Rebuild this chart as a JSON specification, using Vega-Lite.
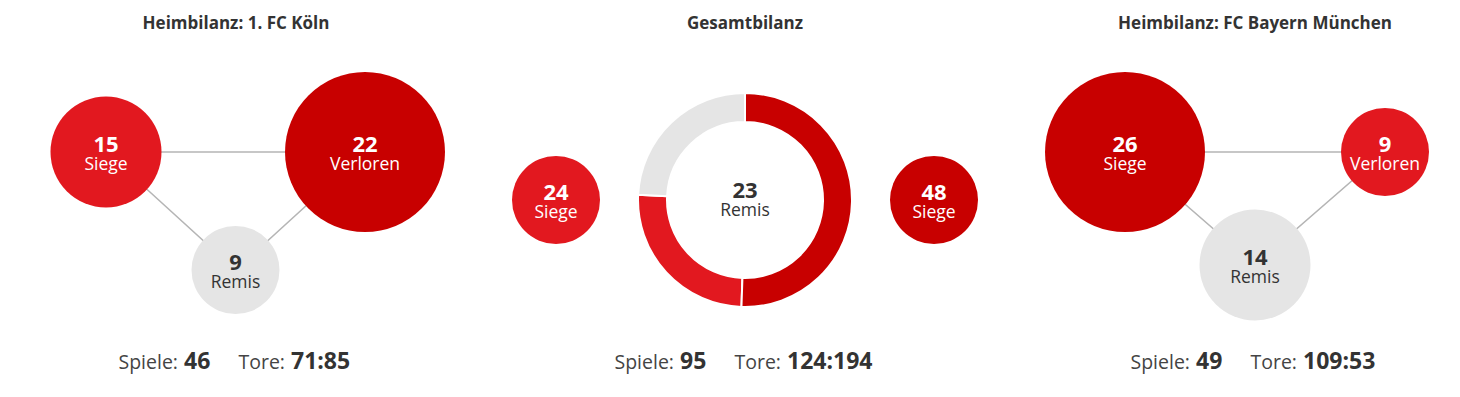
{
  "$schema": "https://vega.github.io/schema/vega-lite/v6.json",
  "padding": {"left": 0, "right": 0, "top": 15, "bottom": 0},
  "background": "#ffffff",
  "spacing": 0,
  "bounds": "flush",
  "config": {
    "view": {"stroke": null},
    "font": "Open Sans",
    "title": {"fontSize": 17, "fontWeight": "bold", "color": "#333333", "anchor": "middle", "offset": -2}
  },
  "datasets": {
    "bilanz": [
      {"panel": "Köln", "winner": "Köln", "result": "Siege", "outcome": "entschieden", "value": 15},
      {"panel": "Köln", "winner": "Remis", "result": "Remis", "outcome": "unentschieden", "value": 9},
      {"panel": "Köln", "winner": "Bayern", "result": "Verloren", "outcome": "entschieden", "value": 22},
      {"panel": "Gesamt", "winner": "Köln", "result": "Siege", "outcome": "entschieden", "value": 24},
      {"panel": "Gesamt", "winner": "Remis", "result": "Remis", "outcome": "unentschieden", "value": 23},
      {"panel": "Gesamt", "winner": "Bayern", "result": "Siege", "outcome": "entschieden", "value": 48},
      {"panel": "Bayern", "winner": "Bayern", "result": "Siege", "outcome": "entschieden", "value": 26},
      {"panel": "Bayern", "winner": "Remis", "result": "Remis", "outcome": "unentschieden", "value": 14},
      {"panel": "Bayern", "winner": "Köln", "result": "Verloren", "outcome": "entschieden", "value": 9}
    ],
    "kennzahlen": [
      {"panel": "Köln", "stat": "Spiele:", "number": "46"},
      {"panel": "Köln", "stat": "Tore:", "number": "71:85"},
      {"panel": "Gesamt", "stat": "Spiele:", "number": "95"},
      {"panel": "Gesamt", "stat": "Tore:", "number": "124:194"},
      {"panel": "Bayern", "stat": "Spiele:", "number": "49"},
      {"panel": "Bayern", "stat": "Tore:", "number": "109:53"}
    ]
  },
  "hconcat": [
    {
      "width": 472,
      "height": 338,
      "title": "Heimbilanz: 1. FC Köln",
      "layer": [
        {
          "data": {"name": "bilanz"},
          "transform": [
            {"filter": {"field": "panel", "equal": "Köln"}},
            {"window": [{"op": "rank", "as": "rang"}], "sort": [{"field": "value", "order": "descending"}]}
          ],
          "encoding": {
            "x": {"field": "winner", "type": "nominal", "scale": {"type": "point", "padding": 0, "domain": ["Köln", "Remis", "Bayern"], "range": [106, 365]}, "axis": null},
            "y": {"field": "outcome", "type": "nominal", "scale": {"type": "point", "padding": 0, "domain": ["entschieden", "unentschieden"], "range": [121, 239]}, "axis": null}
          },
          "layer": [
            {"mark": {"type": "line", "interpolate": "linear-closed", "color": "#b5b5b5", "strokeWidth": 1.5}},
            {
              "mark": {"type": "circle", "opacity": 1},
              "encoding": {
                "color": {"field": "winner", "type": "nominal", "scale": {"domain": ["Köln", "Bayern", "Remis"], "range": ["#e2181f", "#c80000", "#e5e5e5"]}, "legend": null},
                "size": {"field": "rang", "type": "ordinal", "scale": {"type": "ordinal", "domain": [1, 2, 3], "range": [25600, 12321, 7744]}, "legend": null}
              }
            },
            {
              "mark": {"type": "text", "fontSize": 22, "fontWeight": "bold", "baseline": "alphabetic", "dy": 0},
              "encoding": {
                "text": {"field": "value", "type": "quantitative"},
                "color": {"condition": {"test": "datum.winner === 'Remis'", "value": "#333333"}, "value": "#ffffff"}
              }
            },
            {
              "mark": {"type": "text", "fontSize": 17.5, "baseline": "alphabetic", "dy": 18},
              "encoding": {
                "text": {"field": "result", "type": "nominal"},
                "color": {"condition": {"test": "datum.winner === 'Remis'", "value": "#333333"}, "value": "#ffffff"}
              }
            }
          ]
        },
        {
          "data": {"name": "kennzahlen"},
          "transform": [{"filter": {"field": "panel", "equal": "Köln"}}],
          "encoding": {
            "x": {"field": "stat", "type": "nominal", "scale": {"type": "point", "padding": 0, "domain": ["Spiele:", "Tore:"], "range": [181, 288]}, "axis": null},
            "y": {"value": "height"}
          },
          "layer": [
            {"mark": {"type": "text", "align": "right", "dx": -3, "fontSize": 19.5, "color": "#444444", "baseline": "alphabetic"}, "encoding": {"text": {"field": "stat", "type": "nominal"}}},
            {"mark": {"type": "text", "align": "left", "dx": 3, "fontSize": 23, "fontWeight": "bold", "color": "#333333", "baseline": "alphabetic"}, "encoding": {"text": {"field": "number", "type": "nominal"}}}
          ]
        }
      ],
      "resolve": {"scale": {"x": "independent", "y": "independent"}}
    },
    {
      "width": 546,
      "height": 338,
      "title": "Gesamtbilanz",
      "layer": [
        {
          "data": {"name": "bilanz"},
          "transform": [{"filter": {"field": "panel", "equal": "Gesamt"}}],
          "layer": [
            {
              "mark": {"type": "arc", "innerRadius": 78, "outerRadius": 107, "stroke": "#ffffff", "strokeWidth": 2},
              "encoding": {
                "theta": {"field": "value", "type": "quantitative", "stack": true},
                "order": {"field": "value", "sort": "descending"},
                "color": {"field": "winner", "type": "nominal", "scale": {"domain": ["Köln", "Bayern", "Remis"], "range": ["#e2181f", "#c80000", "#e5e5e5"]}, "legend": null}
              }
            },
            {
              "transform": [{"filter": {"not": {"field": "winner", "equal": "Remis"}}}],
              "encoding": {
                "x": {"field": "winner", "type": "nominal", "scale": {"type": "point", "padding": 0, "domain": ["Köln", "Bayern"], "range": [84, 462]}, "axis": null}
              },
              "layer": [
                {
                  "mark": {"type": "circle", "opacity": 1, "size": 7744},
                  "encoding": {
                    "color": {"field": "winner", "type": "nominal", "scale": {"domain": ["Köln", "Bayern", "Remis"], "range": ["#e2181f", "#c80000", "#e5e5e5"]}, "legend": null}
                  }
                },
                {
                  "mark": {"type": "text", "fontSize": 22, "fontWeight": "bold", "baseline": "alphabetic", "dy": 0, "color": "#ffffff"},
                  "encoding": {"text": {"field": "value", "type": "quantitative"}}
                },
                {
                  "mark": {"type": "text", "fontSize": 17.5, "baseline": "alphabetic", "dy": 18, "color": "#ffffff"},
                  "encoding": {"text": {"field": "result", "type": "nominal"}}
                }
              ]
            },
            {
              "transform": [{"filter": {"field": "winner", "equal": "Remis"}}],
              "layer": [
                {
                  "mark": {"type": "text", "fontSize": 22, "fontWeight": "bold", "baseline": "alphabetic", "dy": -2, "color": "#333333"},
                  "encoding": {"text": {"field": "value", "type": "quantitative"}}
                },
                {
                  "mark": {"type": "text", "fontSize": 17.5, "baseline": "alphabetic", "dy": 16, "color": "#333333"},
                  "encoding": {"text": {"field": "result", "type": "nominal"}}
                }
              ]
            }
          ]
        },
        {
          "data": {"name": "kennzahlen"},
          "transform": [{"filter": {"field": "panel", "equal": "Gesamt"}}],
          "encoding": {
            "x": {"field": "stat", "type": "nominal", "scale": {"type": "point", "padding": 0, "domain": ["Spiele:", "Tore:"], "range": [205, 312]}, "axis": null},
            "y": {"value": "height"}
          },
          "layer": [
            {"mark": {"type": "text", "align": "right", "dx": -3, "fontSize": 19.5, "color": "#444444", "baseline": "alphabetic"}, "encoding": {"text": {"field": "stat", "type": "nominal"}}},
            {"mark": {"type": "text", "align": "left", "dx": 3, "fontSize": 23, "fontWeight": "bold", "color": "#333333", "baseline": "alphabetic"}, "encoding": {"text": {"field": "number", "type": "nominal"}}}
          ]
        }
      ],
      "resolve": {"scale": {"x": "independent", "y": "independent"}}
    },
    {
      "width": 442,
      "height": 338,
      "title": {"text": "Heimbilanz: FC Bayern München", "dx": 16},
      "layer": [
        {
          "data": {"name": "bilanz"},
          "transform": [
            {"filter": {"field": "panel", "equal": "Bayern"}},
            {"window": [{"op": "rank", "as": "rang"}], "sort": [{"field": "value", "order": "descending"}]}
          ],
          "encoding": {
            "x": {"field": "winner", "type": "nominal", "scale": {"type": "point", "padding": 0, "domain": ["Bayern", "Remis", "Köln"], "range": [107, 367]}, "axis": null},
            "y": {"field": "outcome", "type": "nominal", "scale": {"type": "point", "padding": 0, "domain": ["entschieden", "unentschieden"], "range": [121, 234]}, "axis": null}
          },
          "layer": [
            {"mark": {"type": "line", "interpolate": "linear-closed", "color": "#b5b5b5", "strokeWidth": 1.5}},
            {
              "mark": {"type": "circle", "opacity": 1},
              "encoding": {
                "color": {"field": "winner", "type": "nominal", "scale": {"domain": ["Köln", "Bayern", "Remis"], "range": ["#e2181f", "#c80000", "#e5e5e5"]}, "legend": null},
                "size": {"field": "rang", "type": "ordinal", "scale": {"type": "ordinal", "domain": [1, 2, 3], "range": [25600, 12321, 7744]}, "legend": null}
              }
            },
            {
              "mark": {"type": "text", "fontSize": 22, "fontWeight": "bold", "baseline": "alphabetic", "dy": 0},
              "encoding": {
                "text": {"field": "value", "type": "quantitative"},
                "color": {"condition": {"test": "datum.winner === 'Remis'", "value": "#333333"}, "value": "#ffffff"}
              }
            },
            {
              "mark": {"type": "text", "fontSize": 17.5, "baseline": "alphabetic", "dy": 18},
              "encoding": {
                "text": {"field": "result", "type": "nominal"},
                "color": {"condition": {"test": "datum.winner === 'Remis'", "value": "#333333"}, "value": "#ffffff"}
              }
            }
          ]
        },
        {
          "data": {"name": "kennzahlen"},
          "transform": [{"filter": {"field": "panel", "equal": "Bayern"}}],
          "encoding": {
            "x": {"field": "stat", "type": "nominal", "scale": {"type": "point", "padding": 0, "domain": ["Spiele:", "Tore:"], "range": [175, 282]}, "axis": null},
            "y": {"value": "height"}
          },
          "layer": [
            {"mark": {"type": "text", "align": "right", "dx": -3, "fontSize": 19.5, "color": "#444444", "baseline": "alphabetic"}, "encoding": {"text": {"field": "stat", "type": "nominal"}}},
            {"mark": {"type": "text", "align": "left", "dx": 3, "fontSize": 23, "fontWeight": "bold", "color": "#333333", "baseline": "alphabetic"}, "encoding": {"text": {"field": "number", "type": "nominal"}}}
          ]
        }
      ],
      "resolve": {"scale": {"x": "independent", "y": "independent"}}
    }
  ]
}
